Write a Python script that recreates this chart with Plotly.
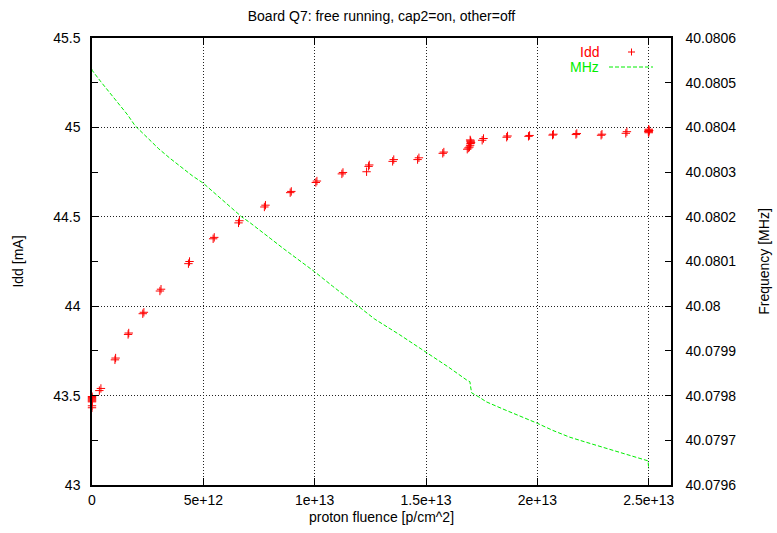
import plotly.graph_objects as go

# Supply current vs. accumulated proton fluence
idd_fluence = [
    0, 0, 0, 0, 0, 0, 0, 0, 0,
    0.33e12, 0.40e12,
    1.03e12, 1.06e12,
    1.62e12, 1.65e12,
    2.28e12, 2.33e12,
    3.05e12, 3.10e12,
    4.33e12, 4.38e12,
    5.44e12, 5.49e12,
    6.58e12, 6.62e12,
    7.74e12, 7.79e12,
    8.90e12, 8.95e12,
    10.05e12, 10.10e12,
    11.22e12, 11.27e12,
    12.33e12, 12.42e12, 12.45e12,
    13.50e12, 13.55e12,
    14.62e12, 14.68e12,
    15.75e12, 15.80e12,
    16.85e12, 16.90e12, 16.95e12, 16.98e12, 17.00e12, 17.00e12, 16.98e12, 17.00e12, 17.02e12,
    17.52e12, 17.58e12,
    18.62e12, 18.66e12,
    19.60e12, 19.65e12,
    20.68e12, 20.72e12,
    21.73e12, 21.77e12,
    22.86e12, 22.90e12,
    23.97e12, 24.02e12,
    25.0e12, 25.0e12, 25.0e12, 25.0e12, 25.0e12, 24.98e12, 25.02e12,
]
idd_ma = [
    43.465, 43.47, 43.475, 43.48, 43.485, 43.49, 43.495, 43.443, 43.432,
    43.528, 43.540,
    43.700, 43.710,
    43.842, 43.850,
    43.958, 43.966,
    44.085, 44.095,
    44.238, 44.250,
    44.377, 44.385,
    44.466, 44.478,
    44.555, 44.565,
    44.635, 44.642,
    44.692, 44.700,
    44.740, 44.748,
    44.752, 44.782, 44.790,
    44.810, 44.820,
    44.820, 44.830,
    44.855, 44.862,
    44.878, 44.885, 44.890, 44.900, 44.910, 44.920, 44.930, 44.925, 44.915,
    44.928, 44.938,
    44.945, 44.952,
    44.950, 44.955,
    44.957, 44.962,
    44.960, 44.966,
    44.956, 44.962,
    44.967, 44.976,
    44.970, 44.975, 44.980, 44.985, 44.990, 44.978, 44.982,
]

# Oscillator frequency vs. fluence
mhz_fluence = [
    0, 0, 0.4e12, 0.8e12, 1.2e12, 1.6e12, 1.93e12, 2.5e12, 3.0e12, 3.5e12,
    4.0e12, 4.5e12, 5.0e12, 5.5e12, 6.0e12, 6.72e12, 7.09e12, 7.5e12, 8.0e12,
    8.62e12, 9.3e12, 10.0e12, 10.8e12, 11.58e12, 12.7e12, 13.82e12, 15.0e12,
    16.0e12, 16.82e12, 16.97e12, 17.0e12, 17.05e12, 17.34e12, 17.71e12, 18.5e12,
    19.3e12, 20.0e12, 20.7e12, 21.45e12, 22.1e12, 22.8e12, 23.9e12, 24.97e12,
    25.0e12,
]
freq_mhz = [
    40.080530, 40.080528, 40.080502, 40.080478, 40.080454, 40.080428, 40.080404,
    40.080377, 40.080352, 40.080331, 40.080311, 40.080292, 40.080275, 40.080253,
    40.080232, 40.080200, 40.080187, 40.080172, 40.080152, 40.080128, 40.080103,
    40.080077, 40.080045, 40.080014, 40.079971, 40.079936, 40.079898, 40.079864,
    40.079835, 40.079831, 40.079820, 40.079806, 40.079798, 40.079786, 40.079769,
    40.079753, 40.079738, 40.079722, 40.079707, 40.079697, 40.079686, 40.079670,
    40.079654, 40.079636,
]

x_tickvals = [0, 5e12, 1e13, 1.5e13, 2e13, 2.5e13]
x_ticktext = ["0", "5e+12", "1e+13", "1.5e+13", "2e+13", "2.5e+13"]
y2_tickvals = [40.0796, 40.0797, 40.0798, 40.0799, 40.08, 40.0801,
               40.0802, 40.0803, 40.0804, 40.0805, 40.0806]
y2_ticktext = ["40.0796", "40.0797", "40.0798", "40.0799", "40.08", "40.0801",
               "40.0802", "40.0803", "40.0804", "40.0805", "40.0806"]

RED = "#ff0000"
GREEN = "#00ee00"
FONT = "Liberation Sans, Arial, sans-serif"
FS = 14
GRID = dict(showgrid=True, gridcolor="#222222", griddash="1px,2px", gridwidth=1)

fig = go.Figure()
fig.add_trace(go.Scatter(
    x=mhz_fluence, y=freq_mhz, yaxis="y2", mode="lines",
    line=dict(color=GREEN, width=1, dash="4px,2px"),
    showlegend=False,
))
fig.add_trace(go.Scatter(
    x=idd_fluence, y=idd_ma, mode="markers",
    marker=dict(symbol="cross-thin", size=6, color=RED,
                line=dict(width=1, color=RED)),
    cliponaxis=False, showlegend=False,
))

axis_common = dict(
    showline=True, linecolor="black", linewidth=1.5,
    ticks="inside", tickcolor="black", tickwidth=1,
    zeroline=False, automargin=False,
    tickfont=dict(family=FONT, size=FS, color="black"),
)

fig.update_layout(
    width=777, height=533,
    margin=dict(l=92, r=106, t=38, b=48),
    paper_bgcolor="white", plot_bgcolor="white",
    font=dict(family=FONT, size=FS, color="black"),
    title=dict(text="Board Q7: free running, cap2=on, other=off",
               x=0.5, xref="paper", xanchor="center",
               y=1 - 16 / 533, yref="container", yanchor="middle",
               font=dict(family=FONT, size=FS, color="black")),
    xaxis=dict(
        range=[0, 2.6e13], tickvals=x_tickvals, ticktext=x_ticktext,
        ticklen=7, mirror="ticks", ticklabelstandoff=1,
        title=dict(text="proton fluence [p/cm^2]", standoff=6,
                   font=dict(family=FONT, size=FS)),
        **GRID, **axis_common,
    ),
    yaxis=dict(
        range=[43, 45.5], dtick=0.5, tick0=43,
        ticklen=7, mirror=True, ticklabelstandoff=7,
        minor=dict(dtick=0.25, tick0=43, ticks="inside", ticklen=6,
                   tickcolor="black", showgrid=False),
        title=dict(text="Idd [mA]", standoff=26, font=dict(family=FONT, size=FS)),
        **GRID, **axis_common,
    ),
    yaxis2=dict(
        range=[40.0796, 40.0806], tickvals=y2_tickvals, ticktext=y2_ticktext,
        overlaying="y", side="right", showgrid=False,
        ticklen=6, ticklabelstandoff=10,
        title=dict(text="Frequency [MHz]", standoff=24, font=dict(family=FONT, size=FS)),
        **axis_common,
    ),
)

# Key in the upper right: label text followed by a line/marker sample
W, H = 777, 533
L, R, T, B = 92, 106, 38, 48
pw, ph = W - L - R, H - T - B


def px_x(x):
    return (x - L) / pw


def px_y(y):
    return 1 - (y - T) / ph


key = [
    dict(text="Idd", color=RED, y=52),
    dict(text="MHz", color=GREEN, y=67),
]
for item in key:
    fig.add_annotation(
        x=px_x(601), y=px_y(item["y"]),
        xref="paper", yref="paper", xanchor="right", yanchor="middle",
        text=item["text"], showarrow=False,
        font=dict(family=FONT, size=FS, color=item["color"]),
    )
fig.add_shape(type="line", xref="paper", yref="paper",
              x0=px_x(628), x1=px_x(635), y0=px_y(52), y1=px_y(52),
              line=dict(color=RED, width=1))
fig.add_shape(type="line", xref="paper", yref="paper",
              x0=px_x(631.5), x1=px_x(631.5), y0=px_y(48.5), y1=px_y(55.5),
              line=dict(color=RED, width=1))
fig.add_shape(type="line", xref="paper", yref="paper",
              x0=px_x(609), x1=px_x(653), y0=px_y(67), y1=px_y(67),
              line=dict(color=GREEN, width=1, dash="4px,2px"))

fig.write_html("out.html")
